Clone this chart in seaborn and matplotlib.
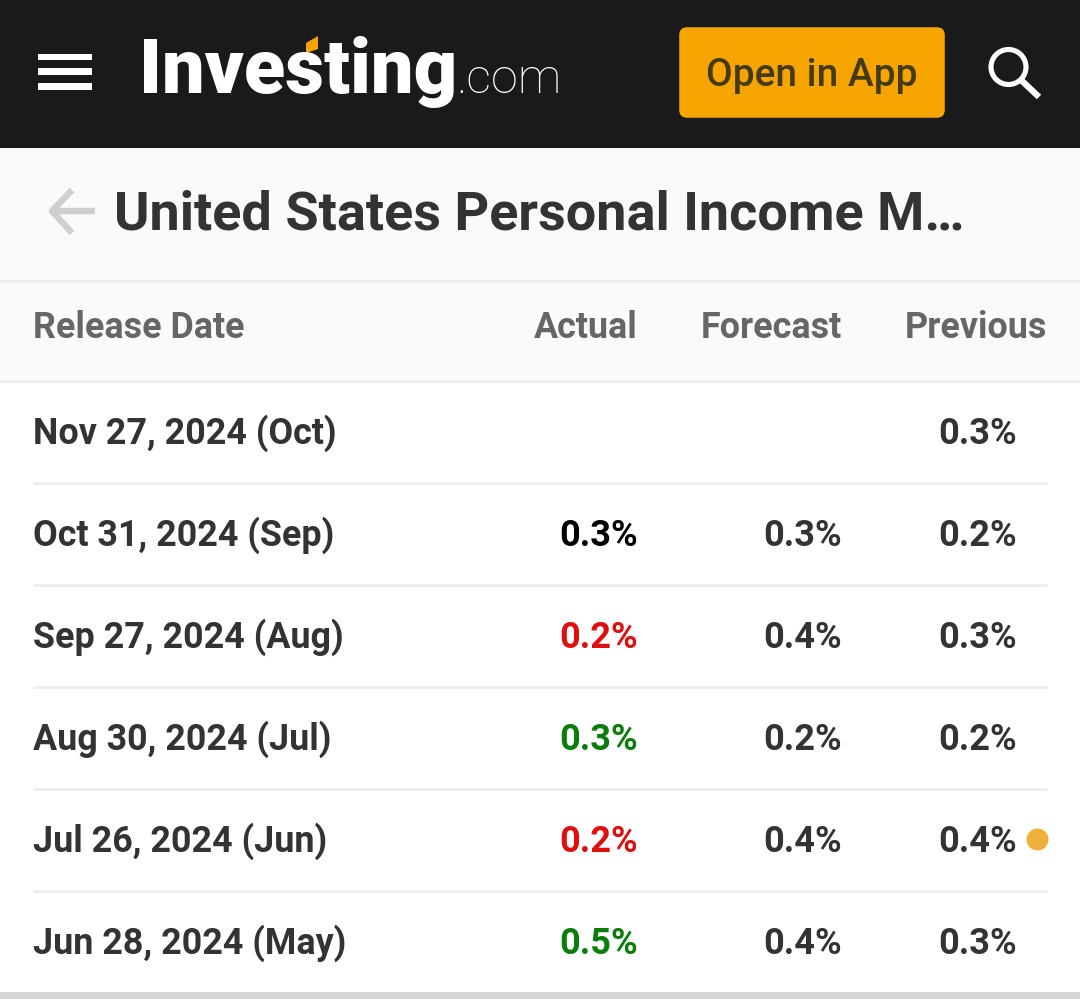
import matplotlib
matplotlib.use("Agg")
import matplotlib.pyplot as plt
from matplotlib.patches import FancyBboxPatch, Polygon, Circle, Rectangle
import pandas as pd
import seaborn as sns

# table values
release_dates = ["Nov 27, 2024 (Oct)", "Oct 31, 2024 (Sep)", "Sep 27, 2024 (Aug)",
                 "Aug 30, 2024 (Jul)", "Jul 26, 2024 (Jun)", "Jun 28, 2024 (May)"]
actual = ["", "0.3%", "0.2%", "0.3%", "0.2%", "0.5%"]
forecast = ["", "0.3%", "0.4%", "0.2%", "0.4%", "0.4%"]
previous = ["0.3%", "0.2%", "0.3%", "0.2%", "0.4%", "0.3%"]
actual_colors = ["#000000", "#000000", "#dd0f0f", "#0a7d0a", "#dd0f0f", "#0a7d0a"]
headers = ["Release Date", "Actual", "Forecast", "Previous"]
title = "United States Personal Income M\u2026"
revised_row = [4]

sns.set_theme(style="white")
plt.rcParams["font.family"] = ["Roboto", "DejaVu Sans"]

fig = plt.figure(figsize=(10.8, 9.99), dpi=100)
ax = fig.add_axes([0, 0, 1, 1])
ax.set_xlim(0, 1080)
ax.set_ylim(999, 0)
ax.axis("off")

# backgrounds
ax.add_patch(Rectangle((0, 0), 1080, 148, color="#1a1a1a", lw=0))
ax.add_patch(Rectangle((0, 148), 1080, 233, color="#fafafa", lw=0))
ax.add_patch(Rectangle((0, 992), 1080, 7, color="#d6d6d6", lw=0))
ax.plot([0, 1080], [281, 281], color="#eeeeee", lw=2.2)
ax.plot([0, 1080], [381, 381], color="#eeeeee", lw=2.2)

# top bar
for y in [57, 71.5, 86.5]:
    ax.add_patch(Rectangle((38, y - 3.2), 54, 6.4, color="white", lw=0))
ax.text(139, 93, "Investing", color="white", fontsize=54.5, fontweight="black", va="baseline")
ax.add_patch(Polygon([[306, 43], [318, 36], [318, 49], [306, 53]], color="#f6a500", lw=0))
ax.text(456, 93, ".com", color="white", fontsize=35, fontweight="light", va="baseline")
ax.add_patch(FancyBboxPatch((682, 30), 260, 85, boxstyle="round,pad=0,rounding_size=5",
                            fc="#f6a500", ec="#f6a500", lw=4))
ax.text(812, 86, "Open in App", color="#443a16", fontsize=28, fontweight="medium",
        ha="center", va="baseline")
ax.add_patch(Circle((1008.5, 67), 17.5, fc="none", ec="white", lw=3.7))
ax.plot([1021, 1039], [80, 97], color="white", lw=4.5, solid_capstyle="butt")

# title row
ax.plot([95, 52, 72], [211, 211, 190], color="#cfcfcf", lw=4.6, solid_capstyle="butt")
ax.plot([52, 72], [211, 233], color="#cfcfcf", lw=4.6, solid_capstyle="butt")
ax.text(114, 230, title, color="#333333", fontsize=38.9, fontweight="bold", va="baseline")

# column headers
ax.text(33, 338, headers[0], color="#666666", fontsize=25.8, fontweight="bold", va="baseline")
ax.text(638, 338, headers[1], color="#666666", fontsize=25.8, fontweight="bold", ha="right", va="baseline")
ax.text(842, 338, headers[2], color="#666666", fontsize=25.8, fontweight="bold", ha="right", va="baseline")
ax.text(1047, 338, headers[3], color="#666666", fontsize=25.8, fontweight="bold", ha="right", va="baseline")

# rows
row_y = [431 + 102 * i for i in range(len(release_dates))]
for i, y in enumerate(row_y):
    ax.text(33, y + 13, release_dates[i], color="#333333", fontsize=25.85, fontweight="bold", va="baseline")
    ax.text(638, y + 13, actual[i], color=actual_colors[i], fontsize=26, fontweight="bold", ha="right", va="baseline")
    ax.text(842, y + 13, forecast[i], color="#333333", fontsize=26, fontweight="bold", ha="right", va="baseline")
    ax.text(1017, y + 13, previous[i], color="#333333", fontsize=26, fontweight="bold", ha="right", va="baseline")
    if i < len(row_y) - 1:
        ax.plot([33, 1047], [y + 52, y + 52], color="#eeeeee", lw=2.2, solid_capstyle="butt")

# dot next to the revised value
dots = pd.DataFrame({"x": [1036.5] * len(revised_row), "y": [row_y[i] for i in revised_row]})
sns.scatterplot(data=dots, x="x", y="y", color="#eeb13c", s=250, linewidth=0, ax=ax, legend=False)
ax.set_xlim(0, 1080)
ax.set_ylim(999, 0)
ax.axis("off")

fig.savefig("out.png", dpi=100, facecolor="white")
